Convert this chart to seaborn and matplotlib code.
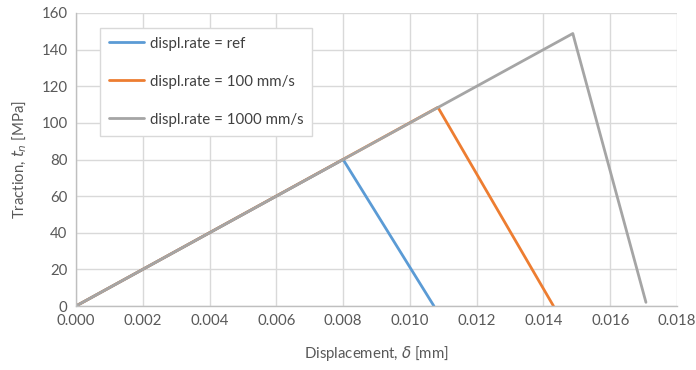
import matplotlib
matplotlib.use("Agg")
import matplotlib.pyplot as plt
import seaborn as sns
import pandas as pd

# data
ref_x = [0.0, 0.0080, 0.01072]
ref_y = [0.0, 80.0, 0.0]
r100_x = [0.0, 0.01084, 0.01430]
r100_y = [0.0, 108.5, 0.0]
r1000_x = [0.0, 0.01488, 0.01495, 0.01707]
r1000_y = [0.0, 148.8, 144.0, 2.0]
labels = ["displ.rate = ref", "displ.rate = 100 mm/s", "displ.rate = 1000 mm/s"]
colors = ["#5B9BD5", "#ED7D31", "#A5A5A5"]

frames = []
for lab, xs, ys in zip(labels, [ref_x, r100_x, r1000_x], [ref_y, r100_y, r1000_y]):
    frames.append(pd.DataFrame({"x": xs, "y": ys, "series": lab}))
df = pd.concat(frames, ignore_index=True)

sns.set_theme(style="whitegrid")
plt.rcParams['font.family'] = ['Lato', 'DejaVu Sans']
plt.rcParams['mathtext.fontset'] = 'dejavusans'

fig = plt.figure(figsize=(6.96, 3.70), dpi=100)
ax = fig.add_axes([76/696, 1-306/370, 601/696, 293/370])

sns.lineplot(data=df, x="x", y="y", hue="series", palette=colors, sort=False,
             estimator=None, units="series", linewidth=2, ax=ax, legend=True)

ax.set_xlim(0, 0.018)
ax.set_ylim(0, 160)
ax.set_xticks([i*0.002 for i in range(10)])
ax.set_xticklabels([f"{i*0.002:.3f}" for i in range(10)])
ax.set_yticks(range(0, 161, 20))
ax.grid(True, color="#d9d9d9", linewidth=1)
for s in ["top", "right"]:
    ax.spines[s].set_visible(False)
for s in ["left", "bottom"]:
    ax.spines[s].set_color("#bfbfbf")
    ax.spines[s].set_linewidth(1)
ax.tick_params(axis="both", colors="#595959", labelsize=10.8, length=0, pad=6)
ax.set_xlabel("Displacement, $\\delta$ [mm]", fontsize=10.8, color="#595959", labelpad=11)
ax.set_ylabel("Traction, $t_n$ [MPa]", fontsize=10.8, color="#595959", labelpad=9)

leg = ax.legend(loc="upper left", bbox_to_anchor=(0.04, 0.95), frameon=True,
                fontsize=10.8, labelspacing=1.6, handlelength=2.3, handletextpad=0.4,
                borderpad=0.6, fancybox=False, borderaxespad=0)
leg.get_frame().set_edgecolor("#d9d9d9")
leg.get_frame().set_facecolor("white")
leg.get_frame().set_alpha(1)
for t in leg.get_texts():
    t.set_color("#404040")
for l in leg.get_lines():
    l.set_linewidth(2)

fig.savefig("out.png", dpi=100)
